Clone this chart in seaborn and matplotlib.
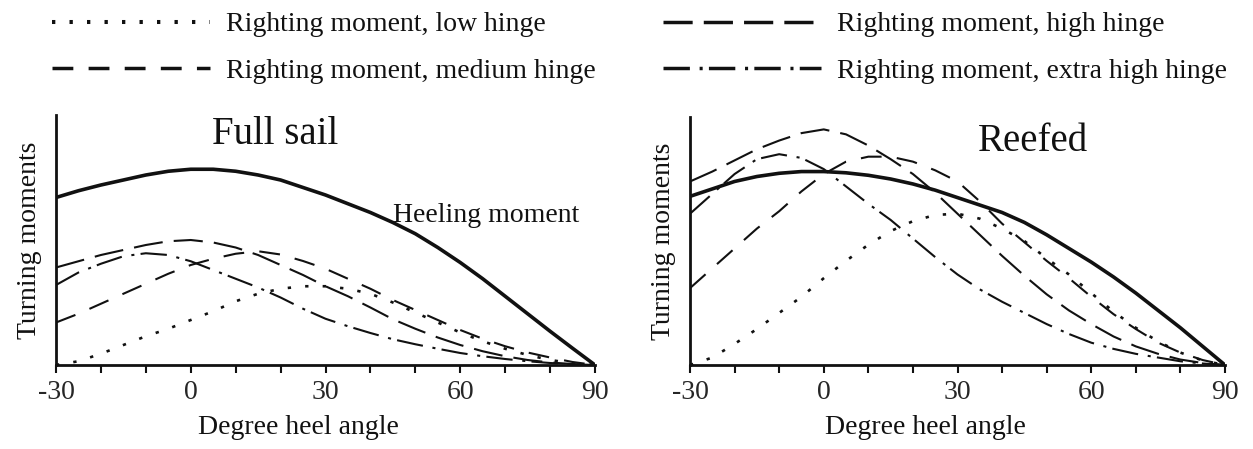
import numpy as np
import pandas as pd
import matplotlib
matplotlib.use("Agg")
import matplotlib.pyplot as plt
from matplotlib.lines import Line2D
import seaborn as sns

# ---------------- data ----------------
angles = [-30, -25, -20, -15, -10, -5, 0, 5, 10, 15, 20, 25, 30,
          35, 40, 45, 50, 55, 60, 65, 70, 75, 80, 85, 90]

full_heel = [67.0, 69.7, 72.0, 74.0, 76.0, 77.5, 78.3, 78.3, 77.5, 76.0, 74.0, 71.0, 68.0,
             64.5, 61.0, 57.0, 52.5, 47.0, 41.0, 34.5, 27.5, 20.5, 13.5, 6.7, 0.0]
full_low = [0.0, 1.5, 4.5, 8.0, 11.5, 14.5, 18.0, 21.5, 25.5, 28.5, 30.5, 31.5, 31.5,
            30.5, 28.5, 25.0, 21.0, 17.0, 13.0, 9.5, 6.5, 4.0, 2.0, 0.7, 0.0]
full_medium = [17.0, 20.5, 24.5, 28.5, 32.5, 36.5, 40.0, 42.5, 44.5, 45.5, 44.2, 41.6, 38.5,
               34.5, 30.5, 26.0, 22.0, 18.0, 14.0, 10.5, 7.5, 5.0, 3.0, 1.2, 0.0]
full_high = [39.0, 41.5, 44.0, 46.0, 48.0, 49.5, 50.0, 49.0, 47.0, 44.0, 40.0, 36.0, 31.5,
             27.5, 23.0, 18.3, 14.5, 11.0, 8.0, 5.5, 3.5, 2.0, 1.0, 0.4, 0.0]
full_xhigh = [32.0, 37.0, 40.5, 43.5, 44.7, 44.0, 41.5, 38.0, 34.5, 31.0, 27.0, 22.5, 18.5,
              15.5, 12.8, 10.3, 8.3, 6.5, 4.8, 3.5, 2.4, 1.5, 0.8, 0.3, 0.0]

reef_heel = [68.0, 71.0, 74.0, 76.0, 77.3, 78.0, 78.0, 77.5, 76.5, 75.0, 73.0, 70.5, 67.5,
             64.5, 61.5, 57.5, 52.5, 47.0, 41.5, 35.5, 29.0, 22.0, 15.0, 7.5, 0.0]
reef_low = [0.0, 3.0, 8.5, 14.5, 21.0, 27.5, 35.0, 42.0, 48.5, 54.0, 58.0, 60.5, 61.0,
            59.0, 55.0, 50.0, 43.0, 36.5, 29.0, 21.5, 15.0, 9.5, 5.0, 1.8, 0.0]
reef_medium = [31.0, 39.0, 47.0, 55.0, 62.0, 70.0, 77.0, 82.0, 84.0, 84.0, 82.0, 78.5, 74.0,
               66.0, 57.0, 49.5, 42.0, 35.0, 27.5, 20.5, 14.5, 9.0, 5.0, 2.0, 0.0]
reef_high = [74.0, 78.0, 82.5, 87.0, 90.5, 93.5, 95.0, 93.0, 88.5, 83.0, 77.0, 69.5, 61.0,
             52.5, 44.0, 36.0, 28.5, 22.0, 16.5, 11.5, 7.5, 4.5, 2.2, 0.8, 0.0]
reef_xhigh = [61.0, 69.0, 77.0, 83.0, 85.0, 83.5, 79.0, 72.0, 65.0, 58.5, 51.0, 43.5, 36.5,
              30.5, 25.5, 21.0, 16.5, 12.5, 9.0, 6.5, 4.5, 3.0, 1.5, 0.6, 0.0]

legend_labels = ["Righting moment, low hinge", "Righting moment, medium hinge",
                 "Righting moment, high hinge", "Righting moment, extra high hinge"]
panel_titles = ["Full sail", "Reefed"]
heel_label = "Heeling moment"
major_ticks = [-30, 0, 30, 60, 90]
tick_labels = ["-30", "0", "30", "60", "90"]
minor_ticks = [-20, -10, 10, 20, 40, 50, 70, 80]
x_label = "Degree heel angle"
y_label = "Turning moments"

# ---------------- style ----------------
sns.set_theme(style="white")
plt.rcParams["font.family"] = ["Liberation Serif", "DejaVu Serif"]
plt.rcParams["lines.scale_dashes"] = False
INK = "#111111"

styles = {
    "low": dict(linestyle=(0, (2.4, 10.2)), linewidth=1.9),
    "medium": dict(linestyle=(0, (15, 11)), linewidth=1.5),
    "high": dict(linestyle=(0, (21, 8)), linewidth=1.5),
    "xhigh": dict(linestyle=(0, (19, 7, 2.2, 4.5)), linewidth=1.5),
    "heel": dict(linestyle="-", linewidth=2.6),
}

fig = plt.figure(figsize=(12.53, 4.49), dpi=100)
W, H = 1253.0, 449.0
ax1 = fig.add_axes([56 / W, 84 / H, 539 / W, 250 / H])
ax2 = fig.add_axes([690 / W, 84 / H, 535 / W, 248 / H])

panels = [
    (ax1, dict(low=full_low, medium=full_medium, high=full_high, xhigh=full_xhigh, heel=full_heel)),
    (ax2, dict(low=reef_low, medium=reef_medium, high=reef_high, xhigh=reef_xhigh, heel=reef_heel)),
]

for ax, series in panels:
    for key in ["low", "medium", "high", "xhigh", "heel"]:
        df = pd.DataFrame({"angle": angles, "moment": series[key]})
        sns.lineplot(data=df, x="angle", y="moment", ax=ax, color=INK,
                     errorbar=None, dash_capstyle="butt", **styles[key])
    ax.set_xlim(-30, 90)
    ax.set_ylim(0, 100)
    ax.set_yticks([])
    ax.set_xticks(major_ticks, labels=tick_labels)
    ax.set_xticks(minor_ticks, minor=True)
    ax.tick_params(axis="x", which="both", direction="out", length=6, width=1.5,
                   color=INK, labelsize=20, pad=5, bottom=True)
    sns.despine(ax=ax)
    for s in ["left", "bottom"]:
        ax.spines[s].set_color(INK)
        ax.spines[s].set_linewidth(2.0)
    ax.set_xlabel(x_label, fontsize=20, color=INK)
    ax.set_ylabel(y_label, fontsize=20, color=INK, labelpad=10)
    ax.set_facecolor("white")
    ax.grid(False)

ax1.xaxis.set_label_coords(0.45, -0.2)
ax2.xaxis.set_label_coords(0.44, -0.2)

ax1.text(0.406, 0.924, panel_titles[0], transform=ax1.transAxes, ha="center",
         va="center", fontsize=28, color=INK)
ax2.text(0.641, 0.90, panel_titles[1], transform=ax2.transAxes, ha="center",
         va="center", fontsize=28, color=INK)
ax1.text(0.625, 0.596, heel_label, transform=ax1.transAxes, ha="left",
         va="center", fontsize=20, color=INK)

# ---------------- legend (two columns) ----------------
def handle(key):
    st = styles[key]
    return Line2D([], [], color=INK, linestyle=st["linestyle"],
                  linewidth=st["linewidth"] + 1.0, dash_capstyle="butt")

common = dict(loc="upper left", frameon=False, fontsize=20, handlelength=5.7,
              handletextpad=0.55, labelspacing=0.75, borderpad=0, borderaxespad=0,
              labelcolor=INK)
fig.legend([handle("low"), handle("medium")], legend_labels[:2],
           bbox_to_anchor=(52 / W, 1 - 12 / H), **common)
fig.legend([handle("high"), handle("xhigh")], legend_labels[2:],
           bbox_to_anchor=(663 / W, 1 - 12 / H), **common)

fig.savefig("out.png", dpi=100, facecolor="white")
